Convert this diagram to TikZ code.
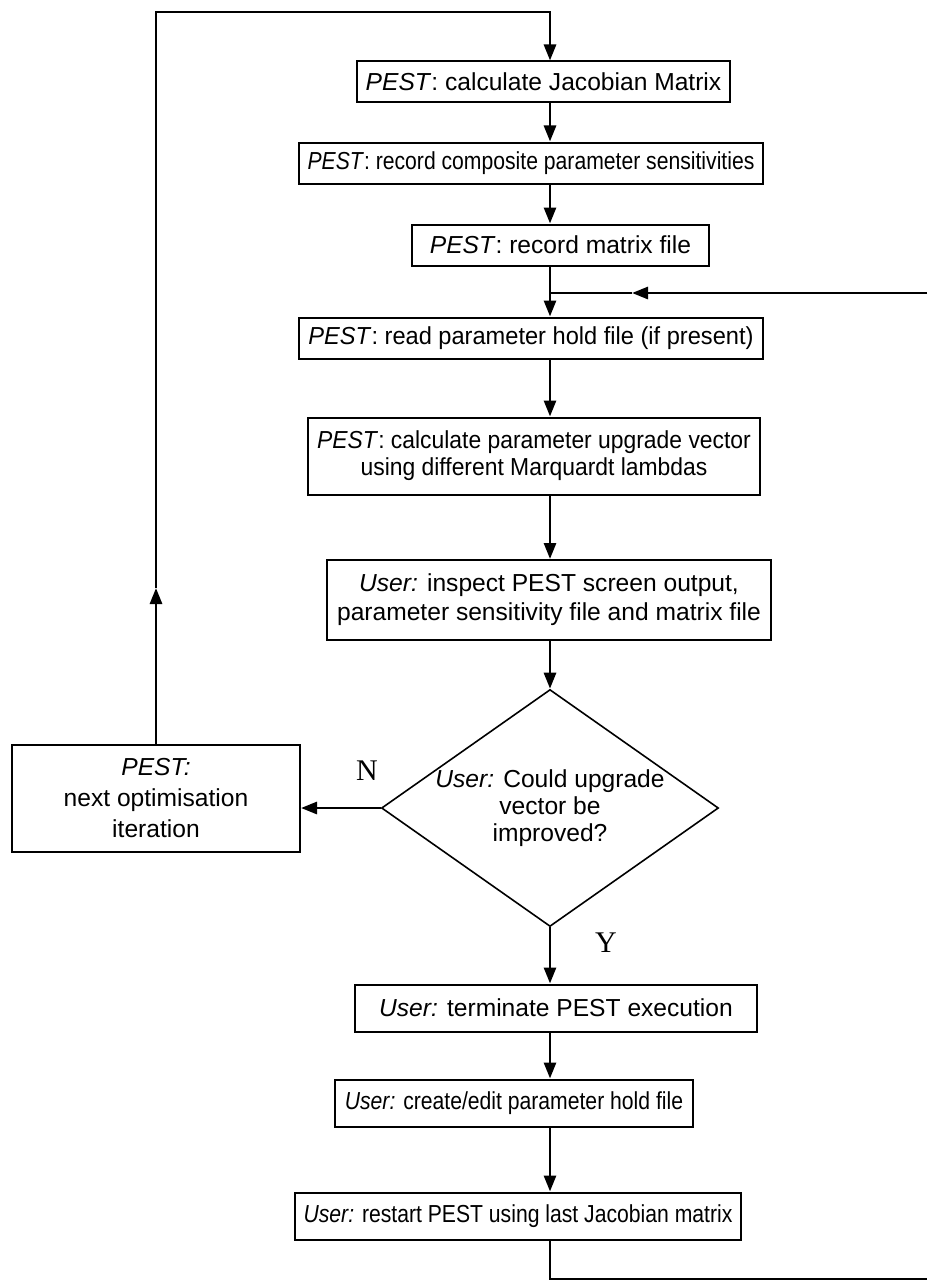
\documentclass[tikz,border=0pt]{standalone}
\usepackage{fontspec}
\setmainfont{Liberation Sans}
\newfontfamily\yesnofont{Liberation Serif}
\newfontfamily\narrowA[FakeStretch=0.86]{Liberation Sans}
\newfontfamily\narrowB[FakeStretch=0.93]{Liberation Sans}
\newfontfamily\narrowC[FakeStretch=0.96]{Liberation Sans}
\usetikzlibrary{shapes.geometric,arrows.meta}

\tikzset{
  stepbox/.style={draw, line width=1pt, fill=white, inner xsep=4.5pt, inner ysep=2pt,
    minimum height=20.5pt, align=center, font=\fontsize{12.3}{14.5}\selectfont},
  ask/.style={draw, diamond, line width=0.8pt, inner sep=0pt, minimum width=168.5pt,
    minimum height=118.5pt},
  flow/.style={line width=1.4pt, -{Triangle[length=8pt,width=6pt]}},
  plain/.style={line width=1.4pt},
  yn/.style={font=\yesnofont\fontsize{15}{15}\selectfont}
}

\begin{document}
\begin{tikzpicture}[x=0.5pt,y=-0.5pt]

      \useasboundingbox (0,0) rectangle (927,1284);

      \begin{scope}[every node/.style={stepbox}]
        \node[minimum width=185.5pt] (b1) at (543.5,82) {\textit{PEST}: calculate Jacobian Matrix};
        \node[minimum width=231pt, font=\narrowA\fontsize{12.3}{14.5}\selectfont]
          (b2) at (531,163) {\textit{PEST}: record composite parameter sensitivities};
        \node[minimum width=148.5pt] (b3) at (560.5,245) {\textit{PEST}: record matrix file};
        \node[minimum width=231pt, font=\narrowC\fontsize{12.3}{14.5}\selectfont]
          (b4) at (531,338) {\textit{PEST}: read parameter hold file (if present)};
        \node[minimum width=224pt, minimum height=38.5pt, font=\narrowB\fontsize{12.3}{13.5}\selectfont]
          (b5) at (534,456) {\textit{PEST}: calculate parameter upgrade vector\\using different Marquardt lambdas};
        \node[minimum width=222pt, minimum height=40pt]
          (b6) at (549,600) {{\itshape User:} inspect PEST screen output,\\parameter sensitivity file and matrix file};
        \node[minimum width=201pt, minimum height=23.5pt] (b7) at (556,1008) {{\itshape User:} terminate PEST execution};
        \node[minimum width=179pt, minimum height=23.5pt, font=\narrowA\fontsize{12.3}{14.5}\selectfont]
          (b8) at (514,1103) {{\itshape User:} create/edit parameter hold file};
        \node[minimum width=220pt, minimum height=23.5pt, font=\narrowA\fontsize{12.3}{14.5}\selectfont]
          (b9) at (518,1216) {{\itshape User:} restart PEST using last Jacobian matrix};
        \node[minimum width=144pt, minimum height=53.5pt, font=\fontsize{12.3}{15.5}\selectfont]
          (nxt) at (156,798) {\textit{PEST:}\\next optimisation\\iteration};
      \end{scope}

      \node[ask] (q) at (550,808) {};
      \node[align=center, font=\fontsize{12.3}{13.5}\selectfont] (qtxt) at (q.center)
        {{\itshape User:} Could upgrade\\vector be\\improved?};

      \node[yn] (no)  at (367,771) {N};
      \node[yn] (yes) at (606,943) {Y};

      \coordinate (tl)   at (156,12);
      \coordinate (up)   at (156,588);
      \coordinate (rin)  at (927,293);
      \coordinate (rmid) at (632,293);
      \coordinate (jn)   at (550,293);
      \coordinate (rout) at (927,1279);

      % main spine
      \draw[flow] (b1.south -| q.north) -- (b2.north -| q.north);
      \draw[flow] (b2.south -| q.north) -- (b3.north -| q.north);
      \draw[flow] (b3.south -| q.north) -- (b4.north -| q.north);
      \draw[flow] (b4.south -| q.north) -- (b5.north -| q.north);
      \draw[flow] (b5.south -| q.north) -- (b6.north -| q.north);
      \draw[flow] (b6.south -| q.north) -- (q.north);
      \draw[flow] (q.south) -- (b7.north -| q.south);
      \draw[flow] (b7.south -| q.south) -- (b8.north -| q.south);
      \draw[flow] (b8.south -| q.south) -- (b9.north -| q.south);

      % loops
      \draw[flow] (q.west) -- (q.west -| nxt.east);
      \draw[flow] (nxt.north) -- (up);
      \draw[flow] (up) -- (tl) -| (b1.north -| q.north);
      \draw[flow] (rin) -- (rmid);
      \draw[plain] (rmid) -- (jn);
      \draw[plain] (b9.south -| q.south) |- (rout);

    \end{tikzpicture}
\end{document}
